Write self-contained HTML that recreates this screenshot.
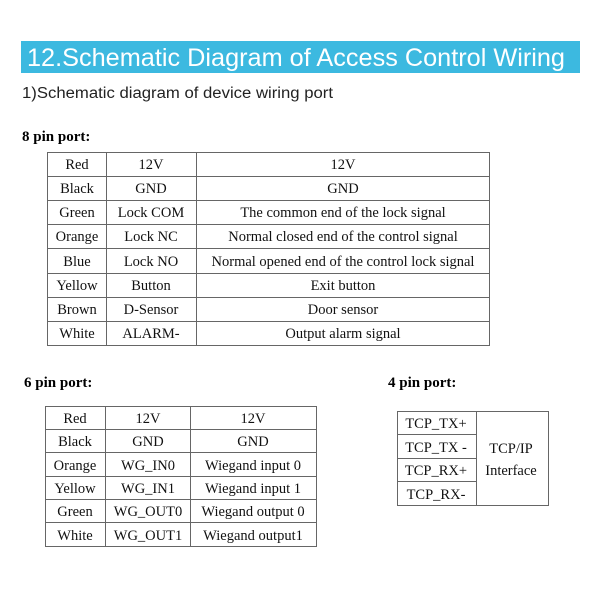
<!DOCTYPE html><html><head><style>body{margin:0;background:#fff}</style></head><body>
<svg width="600" height="600" xmlns="http://www.w3.org/2000/svg" style="display:block">
<rect x="21" y="41" width="559" height="32" fill="#3cb9e0"/>
<text x="27" y="66" font-family="Liberation Sans, sans-serif" font-size="25" fill="#fff" textLength="538" lengthAdjust="spacingAndGlyphs">12.Schematic Diagram of Access Control Wiring</text>
<text x="22" y="98" font-family="Liberation Sans, sans-serif" font-size="15.5" fill="#222" textLength="311" lengthAdjust="spacingAndGlyphs">1)Schematic diagram of device wiring port</text>
<g font-family="Liberation Serif, serif" font-weight="bold" font-size="15" fill="#000">
<text x="22" y="141">8 pin port:</text>
<text x="24" y="387">6 pin port:</text>
<text x="388" y="387">4 pin port:</text>
</g>
<g stroke="#666" stroke-width="1" fill="none">
<rect x="47.5" y="152.5" width="442" height="193"/>
<line x1="106.5" y1="152" x2="106.5" y2="345"/><line x1="196.5" y1="152" x2="196.5" y2="345"/>
<line x1="47" y1="176.5" x2="489" y2="176.5"/><line x1="47" y1="200.5" x2="489" y2="200.5"/>
<line x1="47" y1="224.5" x2="489" y2="224.5"/><line x1="47" y1="248.5" x2="489" y2="248.5"/>
<line x1="47" y1="273.5" x2="489" y2="273.5"/><line x1="47" y1="297.5" x2="489" y2="297.5"/>
<line x1="47" y1="321.5" x2="489" y2="321.5"/>
<rect x="45.5" y="406.5" width="271" height="140"/>
<line x1="105.5" y1="406" x2="105.5" y2="546"/><line x1="190.5" y1="406" x2="190.5" y2="546"/>
<line x1="45" y1="429.5" x2="316" y2="429.5"/><line x1="45" y1="452.5" x2="316" y2="452.5"/>
<line x1="45" y1="476.5" x2="316" y2="476.5"/><line x1="45" y1="499.5" x2="316" y2="499.5"/>
<line x1="45" y1="522.5" x2="316" y2="522.5"/>
<rect x="397.5" y="411.5" width="151" height="94"/>
<line x1="476.5" y1="411" x2="476.5" y2="505"/>
<line x1="397" y1="434.5" x2="476" y2="434.5"/><line x1="397" y1="458.5" x2="476" y2="458.5"/>
<line x1="397" y1="481.5" x2="476" y2="481.5"/>
</g>
<g font-family="Liberation Serif, serif" font-size="14.5" fill="#111" text-anchor="middle">
<text x="77" y="169">Red</text><text x="151" y="169">12V</text><text x="343" y="169">12V</text>
<text x="77" y="193">Black</text><text x="151" y="193">GND</text><text x="343" y="193">GND</text>
<text x="77" y="217">Green</text><text x="151" y="217">Lock COM</text><text x="343" y="217">The common end of the lock signal</text>
<text x="77" y="241">Orange</text><text x="151" y="241">Lock NC</text><text x="343" y="241">Normal closed end of the control signal</text>
<text x="77" y="266">Blue</text><text x="151" y="266">Lock NO</text><text x="343" y="266">Normal opened end of the control lock signal</text>
<text x="77" y="290">Yellow</text><text x="151" y="290">Button</text><text x="343" y="290">Exit button</text>
<text x="77" y="314">Brown</text><text x="151" y="314">D-Sensor</text><text x="343" y="314">Door sensor</text>
<text x="77" y="338">White</text><text x="151" y="338">ALARM-</text><text x="343" y="338">Output alarm signal</text>

<text x="75" y="423">Red</text><text x="148" y="423">12V</text><text x="253" y="423">12V</text>
<text x="75" y="446">Black</text><text x="148" y="446">GND</text><text x="253" y="446">GND</text>
<text x="75" y="470">Orange</text><text x="148" y="470">WG_IN0</text><text x="253" y="470">Wiegand input 0</text>
<text x="75" y="493">Yellow</text><text x="148" y="493">WG_IN1</text><text x="253" y="493">Wiegand input 1</text>
<text x="75" y="516">Green</text><text x="148" y="516">WG_OUT0</text><text x="253" y="516">Wiegand output 0</text>
<text x="75" y="540">White</text><text x="148" y="540">WG_OUT1</text><text x="253" y="540">Wiegand output1</text>

<text x="436" y="428">TCP_TX+</text><text x="436" y="452">TCP_TX -</text>
<text x="436" y="475">TCP_RX+</text><text x="436" y="499">TCP_RX-</text>
<text x="511" y="453">TCP/IP</text><text x="511" y="475">Interface</text>
</g>
</svg>
</body></html>
